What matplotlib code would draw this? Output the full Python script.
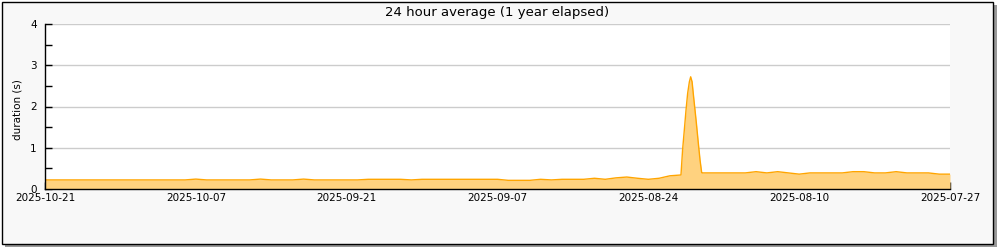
import matplotlib
matplotlib.use('Agg')
from matplotlib import pyplot as plt
from matplotlib.patches import Rectangle

# days elapsed counted from the left edge (2025-10-21) going back in time
days = [0, 1, 2, 3, 4, 5, 6, 7, 8, 9, 10, 11, 12, 13, 14, 15, 16, 17, 18, 19,
        20, 21, 22, 23, 24, 25, 26, 27, 28, 29, 30, 31, 32, 33, 34, 35, 36, 37, 38, 39,
        40, 41, 42, 43, 44, 45, 46, 47, 48, 49, 50, 51, 52, 53, 54, 55, 56, 57, 58,
        59.03, 59.18, 59.34, 59.50, 59.65, 59.81, 59.93, 60.06, 60.20, 60.43, 60.64, 60.80, 60.95,
        61, 62, 63, 64, 65, 66, 67, 68, 69, 70, 71, 72, 73, 74, 75, 76, 77, 78, 79,
        80, 81, 82, 83, 84]
duration = [0.22, 0.22, 0.22, 0.22, 0.22, 0.22, 0.22, 0.22, 0.22, 0.22, 0.22, 0.22, 0.22, 0.22, 0.24, 0.22, 0.22, 0.22, 0.22, 0.22,
            0.24, 0.22, 0.22, 0.22, 0.24, 0.22, 0.22, 0.22, 0.22, 0.22, 0.235, 0.235, 0.235, 0.235, 0.22, 0.235, 0.235, 0.235, 0.235, 0.235,
            0.235, 0.235, 0.235, 0.21, 0.21, 0.21, 0.235, 0.22, 0.235, 0.235, 0.235, 0.26, 0.235, 0.27, 0.29, 0.26, 0.235, 0.26, 0.32,
            0.34, 0.95, 1.43, 1.92, 2.32, 2.60, 2.72, 2.60, 2.24, 1.67, 1.11, 0.70, 0.40,
            0.39, 0.39, 0.39, 0.39, 0.39, 0.42, 0.39, 0.42, 0.39, 0.36, 0.39, 0.39, 0.39, 0.39, 0.42, 0.42, 0.39, 0.39, 0.42,
            0.39, 0.39, 0.39, 0.36, 0.36]

tick_days = [0, 14, 28, 42, 56, 70, 84]
tick_labels = ["2025-10-21", "2025-10-07", "2025-09-21", "2025-09-07",
               "2025-08-24", "2025-08-10", "2025-07-27"]
minor_days = [7, 21, 35, 49, 63, 77]

fig = plt.figure(figsize=(10, 2.5), dpi=100, facecolor='white')

# frame with drop shadow (behind the axes)
fig.patches.append(Rectangle((0.005, 0.012), 0.992, 0.968, transform=fig.transFigure,
                             facecolor='#999999', edgecolor='none', zorder=-2))
fig.patches.append(Rectangle((0.0015, 0.026), 0.9915, 0.968, transform=fig.transFigure,
                             facecolor='#f8f8f8', edgecolor='black', linewidth=1, zorder=-1))

ax = fig.add_axes([0.045, 0.244, 0.905, 0.66])
ax.set_facecolor('white')

ax.fill_between(days, duration, 0, color='#ffd27f', linewidth=0, zorder=2)
ax.plot(days, duration, color='#ffa500', linewidth=1, zorder=3)

ax.set_xlim(0, 84)
ax.set_ylim(0, 4)
ax.set_xticks(tick_days)
ax.set_xticklabels(tick_labels)
ax.set_xticks(minor_days, minor=True)
ax.set_yticks([0, 1, 2, 3, 4])
ax.set_yticks([0.5, 1.5, 2.5, 3.5], minor=True)
ax.tick_params(which='both', direction='in', length=5, width=1, labelsize=7.5, colors='black')
ax.tick_params(axis='x', pad=3)
ax.tick_params(axis='y', pad=6)

ax.grid(axis='y', color='#cccccc', linewidth=1, zorder=1)
ax.set_axisbelow(True)
for side in ['top', 'right']:
    ax.spines[side].set_visible(False)
for side in ['left', 'bottom']:
    ax.spines[side].set_linewidth(1)
    ax.spines[side].set_zorder(4)

ax.set_ylabel("duration (s)", fontsize=7.5)
ax.yaxis.set_label_coords(-0.025, 0.48)

fig.text(0.4975, 1 - 12.5 / 250, "24 hour average (1 year elapsed)", ha='center', va='center', fontsize=9.5)

plt.savefig("out.png", dpi=100, facecolor=fig.get_facecolor())
